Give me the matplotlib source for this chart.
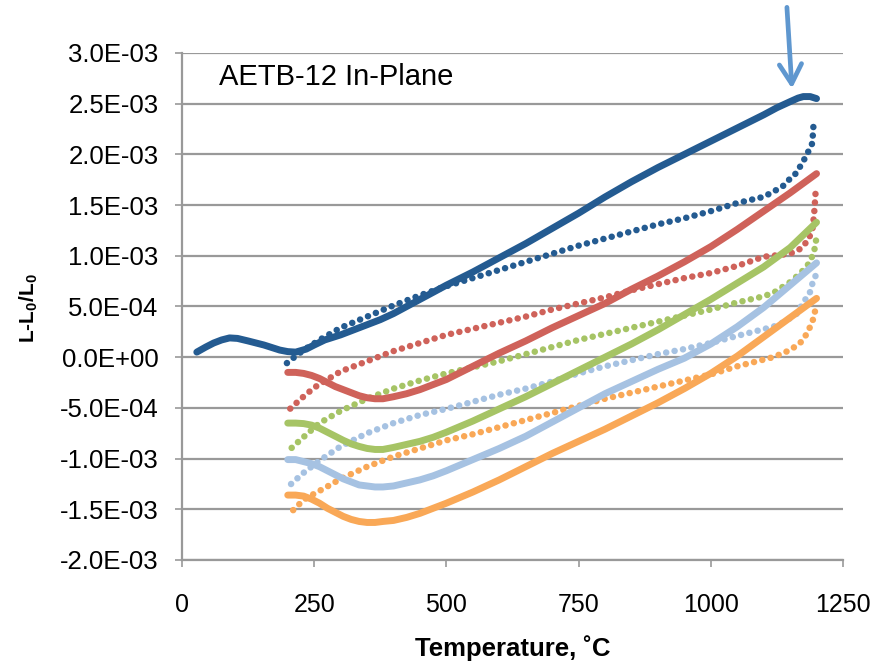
import matplotlib
matplotlib.use('Agg')
import matplotlib.pyplot as plt
from matplotlib.ticker import FuncFormatter, MultipleLocator

plt.rcParams['font.family'] = ['Liberation Sans', 'DejaVu Sans']
plt.rcParams['mathtext.fontset'] = 'custom'
plt.rcParams['mathtext.rm'] = 'Liberation Sans'
plt.rcParams['mathtext.bf'] = 'Liberation Sans:bold'

# heating runs (dense points, drawn as thick lines), values in 1E-03
blue_heat_t = [28, 45, 60, 75, 90, 105, 125, 155, 185, 200, 215, 235, 250, 270, 300, 325, 350,
               375, 400, 450, 500, 550, 600, 650, 700, 750, 800, 850, 900, 950, 1000, 1050,
               1100, 1125, 1150, 1165, 1175, 1188, 1200]
blue_heat_y = [0.05, 0.10, 0.14, 0.17, 0.19, 0.185, 0.16, 0.12, 0.07, 0.055, 0.05, 0.08, 0.12,
               0.17, 0.22, 0.27, 0.32, 0.37, 0.43, 0.57, 0.71, 0.84, 0.98, 1.12, 1.27, 1.42,
               1.58, 1.73, 1.87, 2.00, 2.13, 2.26, 2.39, 2.46, 2.52, 2.555, 2.57, 2.57, 2.55]

heat_t = [200, 215, 230, 245, 260, 275, 290, 305, 320, 335, 350, 365, 380, 400, 425, 450, 475,
          500, 550, 600, 650, 700, 750, 800, 850, 900, 950, 1000, 1050, 1100, 1150, 1200]
red_heat_y = [-0.15, -0.15, -0.16, -0.18, -0.21, -0.25, -0.29, -0.32, -0.35, -0.38, -0.40,
              -0.41, -0.41, -0.39, -0.36, -0.32, -0.27, -0.22, -0.09, 0.04, 0.16, 0.29, 0.41,
              0.53, 0.67, 0.80, 0.94, 1.09, 1.26, 1.44, 1.62, 1.81]
green_heat_y = [-0.65, -0.65, -0.655, -0.67, -0.70, -0.74, -0.78, -0.82, -0.855, -0.88, -0.90,
                -0.91, -0.91, -0.89, -0.86, -0.83, -0.79, -0.74, -0.63, -0.51, -0.39, -0.26,
                -0.13, 0.0, 0.13, 0.27, 0.42, 0.57, 0.73, 0.89, 1.08, 1.33]
ltblue_heat_y = [-1.01, -1.01, -1.03, -1.05, -1.08, -1.12, -1.16, -1.20, -1.23, -1.26, -1.27,
                 -1.28, -1.28, -1.27, -1.24, -1.21, -1.17, -1.12, -1.01, -0.90, -0.78, -0.64,
                 -0.50, -0.36, -0.24, -0.12, -0.01, 0.13, 0.30, 0.49, 0.71, 0.93]
orange_heat_y = [-1.36, -1.36, -1.37, -1.40, -1.44, -1.49, -1.53, -1.57, -1.60, -1.62, -1.63,
                 -1.63, -1.62, -1.61, -1.58, -1.54, -1.49, -1.44, -1.33, -1.21, -1.08, -0.95,
                 -0.83, -0.71, -0.58, -0.45, -0.31, -0.16, 0.01, 0.20, 0.39, 0.58]

# cooling runs (sparse points)
blue_cool_t = [1194, 1192, 1180, 1169, 1159, 1148, 1137, 1118, 1099, 1050, 1000, 950, 900, 850,
               800, 750, 700, 650, 600, 550, 500, 450, 400, 350, 300, 260, 230, 210, 198]
blue_cool_y = [2.27, 2.11, 1.98, 1.88, 1.80, 1.75, 1.69, 1.63, 1.58, 1.52, 1.44, 1.37, 1.31, 1.24,
               1.17, 1.10, 1.02, 0.94, 0.86, 0.78, 0.70, 0.61, 0.51, 0.40, 0.29, 0.17, 0.07, -0.01, -0.06]

red_cool_t = [1198, 1196, 1193, 1185, 1170, 1150, 1100, 1050, 1000, 950, 900, 850, 800, 750, 700,
              650, 600, 550, 500, 450, 400, 350, 300, 250, 225, 200]
red_cool_y = [1.61, 1.45, 1.28, 1.16, 1.07, 1.02, 0.99, 0.90, 0.83, 0.78, 0.72, 0.66, 0.59, 0.53,
              0.47, 0.40, 0.34, 0.28, 0.22, 0.14, 0.06, -0.04, -0.14, -0.30, -0.41, -0.53]

green_cool_t = [1199, 1195, 1185, 1170, 1150, 1120, 1100, 1050, 1000, 950, 900, 850, 800, 750,
                700, 650, 600, 550, 500, 450, 400, 350, 300, 260, 225, 200]
green_cool_y = [1.15, 1.03, 0.92, 0.83, 0.74, 0.64, 0.60, 0.54, 0.47, 0.41, 0.35, 0.29, 0.23, 0.17,
                0.10, 0.03, -0.04, -0.10, -0.16, -0.23, -0.31, -0.41, -0.53, -0.65, -0.81, -0.93]

ltblue_cool_t = [1198, 1194, 1187, 1175, 1163, 1140, 1118, 1050, 1000, 950, 900, 850, 800, 750,
                 700, 650, 600, 550, 500, 450, 400, 350, 300, 260, 230, 200]
ltblue_cool_y = [0.80, 0.76, 0.63, 0.54, 0.43, 0.35, 0.30, 0.21, 0.14, 0.08, 0.03, -0.03, -0.09,
                 -0.16, -0.24, -0.31, -0.37, -0.44, -0.51, -0.57, -0.65, -0.75, -0.88, -1.02, -1.14, -1.28]

orange_cool_t = [1197, 1194, 1188, 1178, 1169, 1150, 1118, 1050, 1000, 950, 900, 850, 800, 750,
                 700, 650, 600, 550, 500, 450, 400, 350, 300, 270, 235, 215, 200]
orange_cool_y = [0.45, 0.38, 0.30, 0.20, 0.14, 0.07, 0.0, -0.09, -0.17, -0.23, -0.29, -0.35, -0.41,
                 -0.48, -0.55, -0.62, -0.69, -0.76, -0.82, -0.90, -0.98, -1.08, -1.20, -1.29, -1.39,
                 -1.48, -1.57]

colors = ['#245B91', '#CF625A', '#A6C465', '#A6C2E2', '#F9A857']
heating = [(blue_heat_t, blue_heat_y), (heat_t, red_heat_y), (heat_t, green_heat_y),
           (heat_t, ltblue_heat_y), (heat_t, orange_heat_y)]
cooling = [(blue_cool_t, blue_cool_y), (red_cool_t, red_cool_y), (green_cool_t, green_cool_y),
           (ltblue_cool_t, ltblue_cool_y), (orange_cool_t, orange_cool_y)]

fig = plt.figure(figsize=(8.75, 6.68), dpi=100)
ax = fig.add_axes([0.208, 0.1617, 0.7554, 0.759])

for c, (ct, cy), (ht, hy) in zip(colors, cooling, heating):
    ax.plot(ct, [v * 1e-3 for v in cy], color=c, lw=4.7, linestyle=(0, (0.01, 1.3)),
            dash_capstyle='round', zorder=3)
    ax.plot(ht, [v * 1e-3 for v in hy], color=c, lw=5.0, solid_capstyle='round',
            solid_joinstyle='round', zorder=4)

ax.set_xlim(0, 1250)
ax.set_ylim(-2e-3, 3e-3)
ax.xaxis.set_major_locator(MultipleLocator(250))
ax.yaxis.set_major_locator(MultipleLocator(5e-4))
ax.yaxis.set_major_formatter(FuncFormatter(lambda v, p: '{:.1E}'.format(v)))

ax.yaxis.grid(True, color='#999999', lw=1.6)
ax.set_axisbelow(True)
for s in ['top', 'right']:
    ax.spines[s].set_visible(False)
for s in ['left', 'bottom']:
    ax.spines[s].set_color('#999999')
    ax.spines[s].set_linewidth(1.6)
ax.tick_params(axis='y', colors='#999999', length=5, width=1.2, pad=12,
               labelcolor='black', labelsize=18.5)
ax.tick_params(axis='x', colors='#999999', length=5, width=1.2, pad=19,
               labelcolor='black', labelsize=18)

ax.text(70, 2.68e-3, 'AETB-12 In-Plane', fontsize=21, va='baseline', ha='left')

ax.annotate('', xy=(1153.5, 2.65e-3), xytext=(1144, 3.45e-3), annotation_clip=False,
            arrowprops=dict(arrowstyle='->,head_length=1.4,head_width=0.8', lw=3.4,
                            color='#5F97CF', shrinkA=0, shrinkB=0))

fig.text(513 / 875, 1 - 648 / 668, 'Temperature, ˚C', fontsize=18.5, fontweight='bold',
         ha='center', va='center')
fig.text(29 / 875, 1 - 308 / 668, r'L-L$_\mathbf{0}$/L$_\mathbf{0}$', fontsize=15,
         fontweight='bold', rotation=90, ha='center', va='center')

fig.savefig('out.png', dpi=100)
